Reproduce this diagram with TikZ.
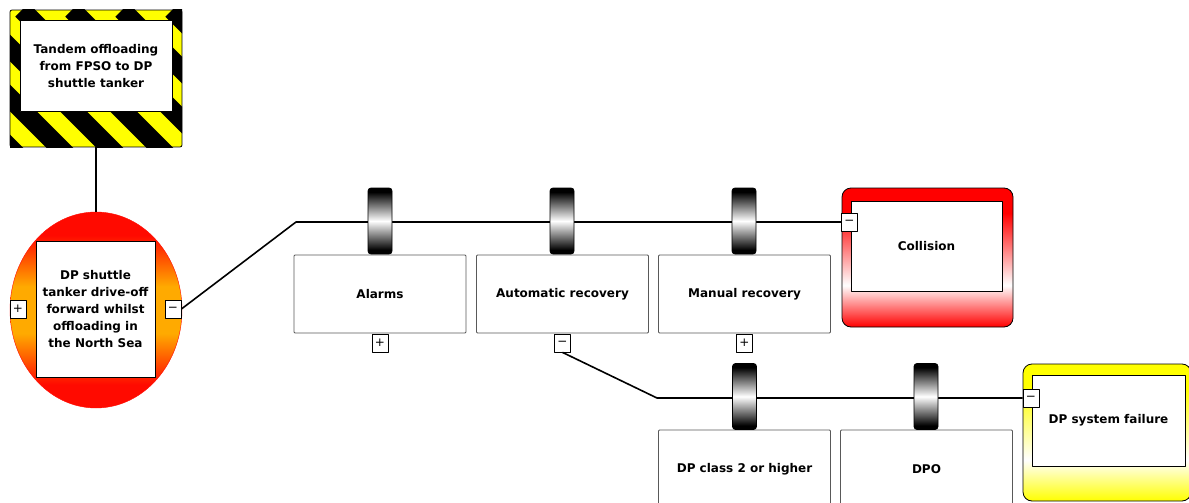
\documentclass[tikz,border=0pt]{standalone}
\usepackage{fontspec}
\setmainfont{DejaVu Sans}
\usetikzlibrary{shapes.geometric}

\definecolor{hazyellow}{RGB}{255,255,0}
\definecolor{evorange}{RGB}{255,170,0}
\definecolor{evred}{RGB}{255,10,0}

% band shadings (25bp = bottom of the shape, 75bp = top)
\pgfdeclareverticalshading{redband}{100bp}{color(0bp)=(red); color(25bp)=(red); color(40bp)=(white); color(66bp)=(red); color(100bp)=(red)}
\pgfdeclareverticalshading{yellowband}{100bp}{color(0bp)=(hazyellow); color(25bp)=(hazyellow); color(40bp)=(white); color(66bp)=(hazyellow); color(100bp)=(hazyellow)}
\pgfdeclareverticalshading{eventband}{100bp}{color(0bp)=(evred); color(31bp)=(evred); color(44bp)=(evorange); color(56bp)=(evorange); color(69bp)=(evred); color(100bp)=(evred)}
\pgfdeclareverticalshading{barrel}{100bp}{color(0bp)=(black); color(28bp)=(black); color(50bp)=(white); color(72bp)=(black); color(100bp)=(black)}

\tikzset{
  lbl/.style={font=\bfseries\fontsize{12}{17}\selectfont, align=center, text=black},
  barrierbox/.style={draw=black!65, line width=0.8pt, fill=white, rounded corners=1pt,
    minimum width=172pt, minimum height=78pt, inner sep=0pt, lbl},
  textbox/.style={draw=black, line width=0.8pt, fill=white, inner sep=0pt, lbl},
  barrelnode/.style={draw=black, line width=0.8pt, shading=barrel, rounded corners=3pt,
    minimum width=24pt, minimum height=66pt, inner sep=0pt},
  toggle/.style={draw=black, line width=0.8pt, fill=white, minimum width=16pt,
    minimum height=18pt, inner sep=0pt, font=\fontsize{12}{12}\selectfont},
  conn/.style={draw=black, line width=1.6pt},
}

\begin{document}
\begin{tikzpicture}[x=1pt, y=-1pt, line join=round]
\useasboundingbox (0,0) rectangle (1189,503);
\clip (0,0) rectangle (1189,503);

% hazard frame with warning stripes
\begin{scope}
  \clip (10,10) rectangle (182,147);
  \fill[hazyellow] (10,10) rectangle (182,147);
  \foreach \k in {-6,...,4}
    \draw[line width=19pt] (22+\k*50,10) -- ++(170,170);
\end{scope}
\node[draw=black, line width=0.8pt, rounded corners=2pt, minimum width=172pt,
  minimum height=137pt, inner sep=0pt] (hazard) at (96,78.5) {};
\node[textbox, minimum width=152pt, minimum height=91pt] (hazardtext) at (96,66)
  {Tandem offloading\\from FPSO to DP\\shuttle tanker};

% top event
\node[ellipse, shading=eventband, draw=evred, minimum width=172pt, minimum height=196pt,
  inner sep=0pt] (event) at (96,310) {};
\node[textbox, minimum width=119pt, minimum height=136pt] (eventtext) at (95.5,309)
  {DP shuttle\\tanker drive-off\\forward whilst\\offloading in\\the North Sea};
\node[toggle] (evplus) at (18,309) {+};
\node[toggle] (evminus) at (173,309) {−};

% consequences
\node[draw=black, line width=0.8pt, rounded corners=9pt, shading=redband,
  minimum width=171pt, minimum height=139pt, inner sep=0pt] (collision) at (927.5,257.5) {};
\node[textbox, minimum width=151pt, minimum height=90pt] (collisiontext) at (926.5,246) {Collision};
\node[toggle] (colminus) at (849.5,222) {−};

\node[draw=black, line width=0.8pt, rounded corners=9pt, shading=yellowband,
  minimum width=168pt, minimum height=137pt, inner sep=0pt] (dpfail) at (1107,432.5) {};
\node[textbox, minimum width=153pt, minimum height=91pt] (dpfailtext) at (1108.5,420.5) {DP system failure};
\node[toggle] (dpminus) at (1031,398) {−};

% barriers
\node[barrierbox] (alarms) at (380,294) {Alarms};
\node[barrierbox] (autorec) at (562.5,294) {Automatic recovery};
\node[barrierbox] (manrec) at (744.5,294) {Manual recovery};
\node[toggle] (alplus) at (380,343) {+};
\node[toggle] (autominus) at (562.5,343) {−};
\node[toggle] (manplus) at (744.5,343) {+};

\node[barrierbox] (dpclass) at (744.5,469) {DP class 2 or higher};
\node[barrierbox] (dpo) at (926.5,469) {DPO};

% connectors
\coordinate (bend1) at (296,222);
\coordinate (bend2) at (657,398);
\draw[conn] (hazard.south) -- (event.north);
\draw[conn] (evminus.east) -- (bend1) -- (colminus.west);
\draw[conn] (autominus.south) -- (bend2) -- (dpminus.west);

% barrier barrels over the lines
\node[barrelnode] (b1) at (380,221) {};
\node[barrelnode] (b2) at (562,221) {};
\node[barrelnode] (b3) at (744,221) {};
\node[barrelnode] (b4) at (744.5,396.5) {};
\node[barrelnode] (b5) at (926,396.5) {};
\end{tikzpicture}
\end{document}
